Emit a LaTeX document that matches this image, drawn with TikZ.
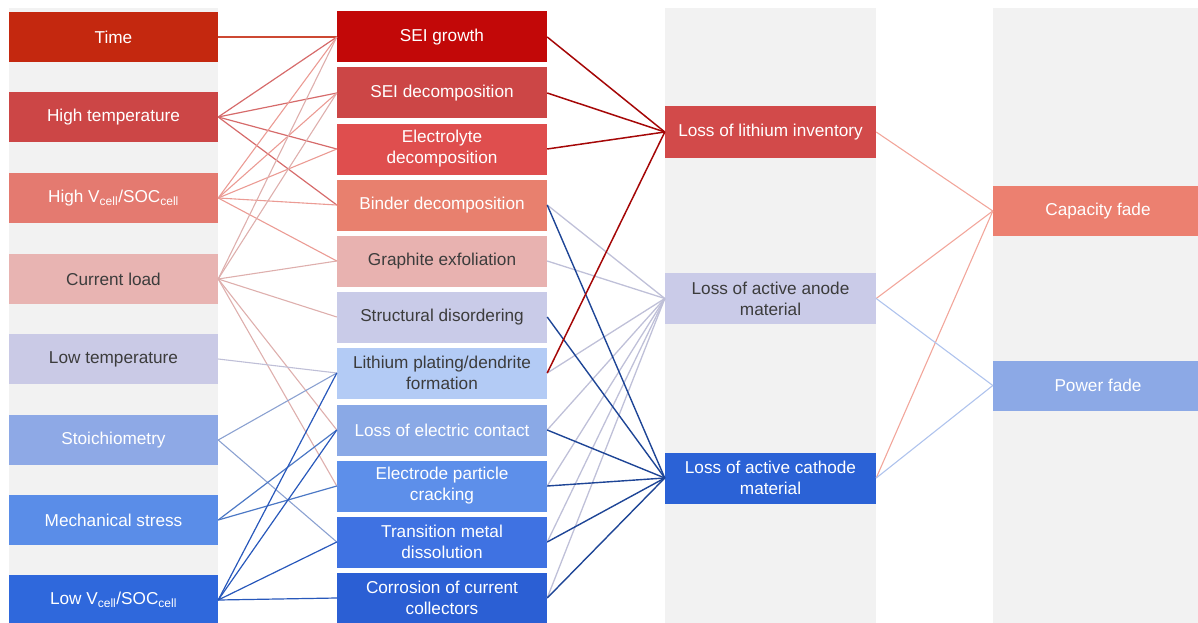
\documentclass[tikz,border=0pt]{standalone}
\usepackage{fontspec}
\setmainfont{Liberation Sans}
\usepackage{tikz}

\definecolor{colbg}{HTML}{F2F2F2}
\definecolor{txtdark}{HTML}{3C3C3C}
\definecolor{timeC}{HTML}{C4280F}
\definecolor{hotC}{HTML}{CC4646}
\definecolor{highvC}{HTML}{E47A70}
\definecolor{curC}{HTML}{E8B4B2}
\definecolor{coldC}{HTML}{CACAE6}
\definecolor{stoiC}{HTML}{8EA9E6}
\definecolor{mechC}{HTML}{5A8DE8}
\definecolor{lowvC}{HTML}{2F68DC}
\definecolor{seigC}{HTML}{C20808}
\definecolor{seidC}{HTML}{CC4646}
\definecolor{elecC}{HTML}{DF4E4E}
\definecolor{bindC}{HTML}{E8806E}
\definecolor{graphC}{HTML}{E8B2B0}
\definecolor{structC}{HTML}{C9CBE8}
\definecolor{platC}{HTML}{B3CBF5}
\definecolor{contC}{HTML}{8AA9E6}
\definecolor{crackC}{HTML}{5D8FEA}
\definecolor{tmdC}{HTML}{3F72E2}
\definecolor{corrC}{HTML}{2B5FD4}
\definecolor{lliC}{HTML}{D24A4A}
\definecolor{anodeC}{HTML}{CACBE8}
\definecolor{cathC}{HTML}{2B62D6}
\definecolor{capC}{HTML}{EC8070}
\definecolor{powC}{HTML}{8CA9E6}

\begin{document}
\begin{tikzpicture}[
    x=1pt, y=-1pt,
    factor/.style={
      rectangle,
      minimum width=209pt,
      minimum height=50pt,
      inner sep=0pt,
      align=center,
      text=white,
      font=\fontsize{17.2}{21}\selectfont
    },
    mechanism/.style={factor, minimum width=210pt, minimum height=51pt},
    mode/.style={factor, minimum width=211pt, minimum height=51pt},
    effect/.style={factor, minimum width=210pt},
    darktext/.style={text=txtdark},
    timeline/.style={draw=timeC!85, line width=1.2pt},
    hotline/.style={draw=hotC!80, line width=1.2pt},
    highvline/.style={draw=highvC!75, line width=1.1pt},
    curline/.style={draw=curC!90!gray, line width=1.1pt},
    coldline/.style={draw=coldC!85!gray, line width=1.1pt},
    stoiline/.style={draw=stoiC!80!gray, line width=1.1pt},
    mechline/.style={draw=mechC!85!black, line width=1.2pt},
    lowvline/.style={draw=lowvC!85!black, line width=1.2pt},
    lliline/.style={draw=seigC!85!black, line width=1.5pt},
    anodeline/.style={draw=anodeC!85!gray, line width=1.3pt},
    cathline/.style={draw=cathC!70!black, line width=1.4pt},
    capline/.style={draw=capC!70, line width=1.1pt},
    powline/.style={draw=powC!70, line width=1.1pt}
  ]
    \useasboundingbox (0,0) rectangle (1198,623);
    \fill[colbg] (9,8) rectangle (218,623);
    \fill[colbg] (665,8) rectangle (876,623);
    \fill[colbg] (993,8) rectangle (1198,623);

    \node[factor, fill=timeC] (time) at (113.5,37) {Time};
    \node[factor, fill=hotC] (hightemp) at (113.5,117) {High temperature};
    \node[factor, fill=highvC] (highv) at (113.5,198) {High V\textsubscript{cell}/SOC\textsubscript{cell}};
    \node[factor, fill=curC, darktext] (current) at (113.5,279) {Current load};
    \node[factor, fill=coldC, darktext] (lowtemp) at (113.5,359) {Low temperature};
    \node[factor, fill=stoiC] (stoich) at (113.5,440) {Stoichiometry};
    \node[factor, fill=mechC] (mech) at (113.5,520) {Mechanical stress};
    \node[factor, fill=lowvC] (lowv) at (113.5,600) {Low V\textsubscript{cell}/SOC\textsubscript{cell}};

    \node[mechanism, fill=seigC] (seigrow) at (442,37) {SEI growth};
    \node[mechanism, fill=seidC] (seidec) at (442,93) {SEI decomposition};
    \node[mechanism, fill=elecC] (electro) at (442,149) {Electrolyte\\decomposition};
    \node[mechanism, fill=bindC] (binder) at (442,205) {Binder decomposition};
    \node[mechanism, fill=graphC, darktext] (graph) at (442,261) {Graphite exfoliation};
    \node[mechanism, fill=structC, darktext] (struct) at (442,317) {Structural disordering};
    \node[mechanism, fill=platC, darktext] (plating) at (442,373) {Lithium plating/dendrite\\formation};
    \node[mechanism, fill=contC] (contact) at (442,430) {Loss of electric contact};
    \node[mechanism, fill=crackC] (crack) at (442,486) {Electrode particle\\cracking};
    \node[mechanism, fill=tmdC] (tmd) at (442,542) {Transition metal\\dissolution};
    \node[mechanism, fill=corrC] (corr) at (442,598) {Corrosion of current\\collectors};

    \node[mode, fill=lliC] (lli) at (770.5,132) {Loss of lithium inventory};
    \node[mode, fill=anodeC, darktext] (anode) at (770.5,298.5) {Loss of active anode\\material};
    \node[mode, fill=cathC] (cathode) at (770.5,478) {Loss of active cathode\\material};

    \node[effect, fill=capC] (capfade) at (1098,211) {Capacity fade};
    \node[effect, fill=powC] (powfade) at (1098,385.5) {Power fade};

    \draw[timeline] (time.east) -- (seigrow.west);
    \draw[hotline] (hightemp.east) -- (seigrow.west);
    \draw[hotline] (hightemp.east) -- (seidec.west);
    \draw[hotline] (hightemp.east) -- (electro.west);
    \draw[hotline] (hightemp.east) -- (binder.west);
    \draw[highvline] (highv.east) -- (seigrow.west);
    \draw[highvline] (highv.east) -- (seidec.west);
    \draw[highvline] (highv.east) -- (electro.west);
    \draw[highvline] (highv.east) -- (binder.west);
    \draw[highvline] (highv.east) -- (graph.west);
    \draw[curline] (current.east) -- (seigrow.west);
    \draw[curline] (current.east) -- (seidec.west);
    \draw[curline] (current.east) -- (graph.west);
    \draw[curline] (current.east) -- (struct.west);
    \draw[curline] (current.east) -- (contact.west);
    \draw[curline] (current.east) -- (crack.west);
    \draw[coldline] (lowtemp.east) -- (plating.west);
    \draw[stoiline] (stoich.east) -- (plating.west);
    \draw[stoiline] (stoich.east) -- (tmd.west);
    \draw[mechline] (mech.east) -- (contact.west);
    \draw[mechline] (mech.east) -- (crack.west);
    \draw[lowvline] (lowv.east) -- (plating.west);
    \draw[lowvline] (lowv.east) -- (contact.west);
    \draw[lowvline] (lowv.east) -- (tmd.west);
    \draw[lowvline] (lowv.east) -- (corr.west);

    \draw[anodeline] (binder.east) -- (anode.west);
    \draw[anodeline] (graph.east) -- (anode.west);
    \draw[anodeline] (plating.east) -- (anode.west);
    \draw[anodeline] (contact.east) -- (anode.west);
    \draw[anodeline] (crack.east) -- (anode.west);
    \draw[anodeline] (tmd.east) -- (anode.west);
    \draw[anodeline] (corr.east) -- (anode.west);
    \draw[cathline] (binder.east) -- (cathode.west);
    \draw[cathline] (struct.east) -- (cathode.west);
    \draw[cathline] (contact.east) -- (cathode.west);
    \draw[cathline] (crack.east) -- (cathode.west);
    \draw[cathline] (tmd.east) -- (cathode.west);
    \draw[cathline] (corr.east) -- (cathode.west);
    \draw[lliline] (seigrow.east) -- (lli.west);
    \draw[lliline] (seidec.east) -- (lli.west);
    \draw[lliline] (electro.east) -- (lli.west);
    \draw[lliline] (plating.east) -- (lli.west);

    \draw[capline] (lli.east) -- (capfade.west);
    \draw[capline] (anode.east) -- (capfade.west);
    \draw[capline] (cathode.east) -- (capfade.west);
    \draw[powline] (anode.east) -- (powfade.west);
    \draw[powline] (cathode.east) -- (powfade.west);
  \end{tikzpicture}
\end{document}
